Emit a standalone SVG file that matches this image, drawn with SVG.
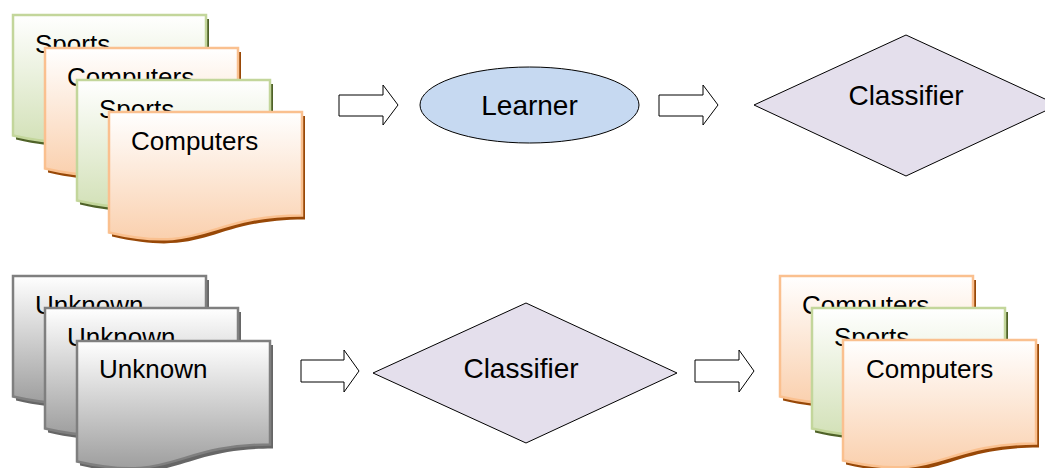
<svg xmlns="http://www.w3.org/2000/svg" xmlns:xlink="http://www.w3.org/1999/xlink" width="1045" height="468" viewBox="0 0 1045 468">
<style>
.doctext{font-family:"Liberation Sans",Arial,sans-serif;font-size:26px;fill:#000}
.label{font-family:"Liberation Sans",Arial,sans-serif;font-size:28px;fill:#000;text-anchor:middle}
.green{fill:url(#gGreen);stroke:#C3D69B;stroke-width:2.5}
.orange{fill:url(#gOrange);stroke:#FAC08F;stroke-width:2.5}
.grey{fill:url(#gGrey);stroke:#7F7F7F;stroke-width:2.5}
.shG{fill:#4F6228}
.shO{fill:#984807}
.shK{fill:#666666}
.arrow{fill:#FFFFFF;stroke:#000;stroke-width:1}
</style>
<defs>
<linearGradient id="gGreen" x1="0" y1="0" x2="0" y2="1"><stop offset="0" stop-color="#FFFFFF"/><stop offset="1" stop-color="#D3E1B8"/></linearGradient>
<linearGradient id="gOrange" x1="0" y1="0" x2="0" y2="1"><stop offset="0" stop-color="#FFFFFF"/><stop offset="1" stop-color="#FAD0AE"/></linearGradient>
<linearGradient id="gGrey" x1="0" y1="0" x2="0" y2="1"><stop offset="0" stop-color="#FFFFFF"/><stop offset="1" stop-color="#9E9E9E"/></linearGradient>
<path id="doc" d="M0,0 H193 V103.5 C96.5,103.5 96.5,142.9 0,120.5 Z"/>
</defs>
<rect width="1045" height="468" fill="#FFFFFF"/>

<g id="train-doc1"><use xlink:href="#doc" class="shG" transform="translate(16,19)"/><use xlink:href="#doc" class="green" transform="translate(13,15)"/><text class="doctext" x="35" y="53">Sports</text></g>
<g id="train-doc2"><use xlink:href="#doc" class="shO" transform="translate(48,52)"/><use xlink:href="#doc" class="orange" transform="translate(45,48)"/><text class="doctext" x="67" y="86">Computers</text></g>
<g id="train-doc3"><use xlink:href="#doc" class="shG" transform="translate(80,84)"/><use xlink:href="#doc" class="green" transform="translate(77,80)"/><text class="doctext" x="99" y="118">Sports</text></g>
<g id="train-doc4"><use xlink:href="#doc" class="shO" transform="translate(112,116)"/><use xlink:href="#doc" class="orange" transform="translate(109,112)"/><text class="doctext" x="131" y="150">Computers</text></g>

<g id="learner"><ellipse cx="529.5" cy="105" rx="109.5" ry="38" fill="#C6D9F1" stroke="#000" stroke-width="1"/><text class="label" x="529.5" y="115">Learner</text></g>
<g id="classifier-top"><polygon points="906,35 1058,105 906,176 754,105" fill="#E4DFEC" stroke="#000" stroke-width="1"/><text class="label" x="906" y="105">Classifier</text></g>

<g id="test-doc1"><use xlink:href="#doc" class="shK" transform="translate(16,280)"/><use xlink:href="#doc" class="grey" transform="translate(13,276)"/><text class="doctext" x="35" y="314">Unknown</text></g>
<g id="test-doc2"><use xlink:href="#doc" class="shK" transform="translate(48,312)"/><use xlink:href="#doc" class="grey" transform="translate(45,308)"/><text class="doctext" x="67" y="346">Unknown</text></g>
<g id="test-doc3"><use xlink:href="#doc" class="shK" transform="translate(80,345)"/><use xlink:href="#doc" class="grey" transform="translate(77,341)"/><text class="doctext" x="99" y="378">Unknown</text></g>

<g id="classifier-bottom"><polygon points="526,303 677,373 526,443 373,373" fill="#E4DFEC" stroke="#000" stroke-width="1"/><text class="label" x="521" y="378">Classifier</text></g>

<g id="out-doc1"><use xlink:href="#doc" class="shO" transform="translate(783,280)"/><use xlink:href="#doc" class="orange" transform="translate(780,276)"/><text class="doctext" x="802" y="314">Computers</text></g>
<g id="out-doc2"><use xlink:href="#doc" class="shG" transform="translate(815,312)"/><use xlink:href="#doc" class="green" transform="translate(812,308)"/><text class="doctext" x="834" y="346">Sports</text></g>
<g id="out-doc3"><use xlink:href="#doc" class="shO" transform="translate(846,344)"/><use xlink:href="#doc" class="orange" transform="translate(843,340)"/><text class="doctext" x="866" y="378">Computers</text></g>

<g id="connectors">
<polygon class="arrow" points="339,95 383,95 383,85 398,105 383,125 383,116 339,116"/>
<polygon class="arrow" points="659,95 703,95 703,85 718,105 703,125 703,116 659,116"/>
<polygon class="arrow" points="301,360 344,360 344,350 359,371 344,392 344,382 301,382"/>
<polygon class="arrow" points="695,360 739,360 739,350 754,371 739,392 739,382 695,382"/>
</g>
</svg>
